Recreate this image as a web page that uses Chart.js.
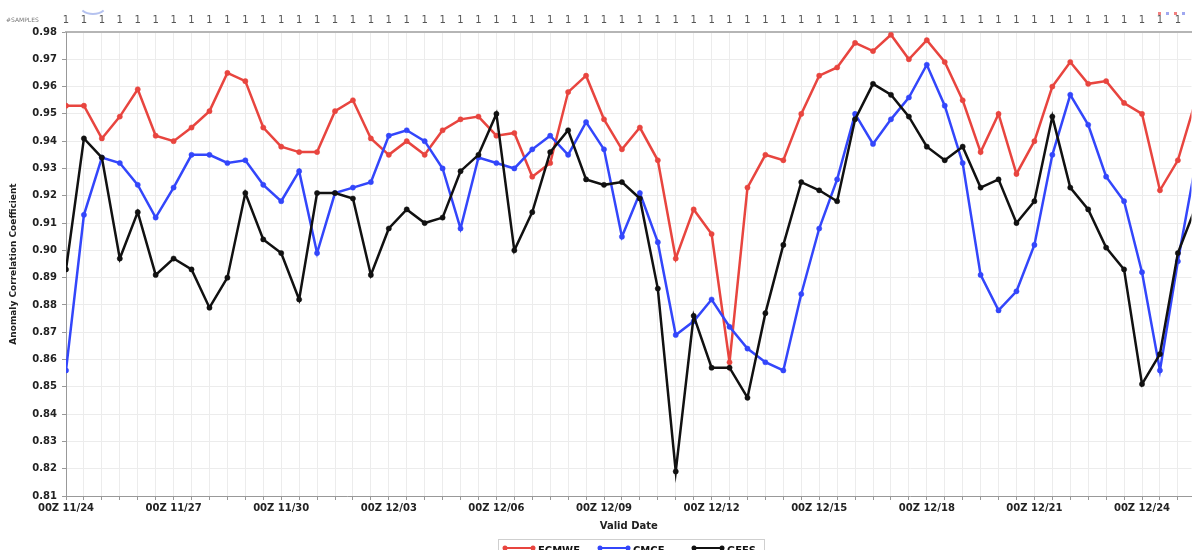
<!DOCTYPE html>
<html>
<head>
<meta charset="utf-8">
<script src="https://cdn.jsdelivr.net/npm/chart.js@4.4.1/dist/chart.umd.min.js"></script>
<style>
  html, body { margin: 0; padding: 0; background: #fff; overflow: hidden; }
  canvas { display: block; }
</style>
</head>
<body>
<canvas id="accChart" width="1196" height="580"></canvas>
<script>
/* ACC 500 hPa — ECMWF / CMCE / GEFS, un point toutes les 12 h depuis 00Z 11/24 */

const xTickLabels = ["00Z 11/24", "00Z 11/27", "00Z 11/30", "00Z 12/03", "00Z 12/06", "00Z 12/09",
  "00Z 12/12", "00Z 12/15", "00Z 12/18", "00Z 12/21", "00Z 12/24"];

const ecmwf = [0.953, 0.953, 0.941, 0.949, 0.959, 0.942, 0.940, 0.945, 0.951, 0.965, 0.962, 0.945,
  0.938, 0.936, 0.936, 0.951, 0.955, 0.941, 0.935, 0.940, 0.935, 0.944, 0.948, 0.949,
  0.942, 0.943, 0.927, 0.932, 0.958, 0.964, 0.948, 0.937, 0.945, 0.933, 0.897, 0.915,
  0.906, 0.859, 0.923, 0.935, 0.933, 0.950, 0.964, 0.967, 0.976, 0.973, 0.979, 0.970,
  0.977, 0.969, 0.955, 0.936, 0.950, 0.928, 0.940, 0.960, 0.969, 0.961, 0.962, 0.954,
  0.950, 0.922, 0.933, 0.955];

const cmce = [0.856, 0.913, 0.934, 0.932, 0.924, 0.912, 0.923, 0.935, 0.935, 0.932, 0.933, 0.924,
  0.918, 0.929, 0.899, 0.921, 0.923, 0.925, 0.942, 0.944, 0.940, 0.930, 0.908, 0.934,
  0.932, 0.930, 0.937, 0.942, 0.935, 0.947, 0.937, 0.905, 0.921, 0.903, 0.869, 0.874,
  0.882, 0.872, 0.864, 0.859, 0.856, 0.884, 0.908, 0.926, 0.950, 0.939, 0.948, 0.956,
  0.968, 0.953, 0.932, 0.891, 0.878, 0.885, 0.902, 0.935, 0.957, 0.946, 0.927, 0.918,
  0.892, 0.856, 0.896, 0.932];

const gefs = [0.893, 0.941, 0.934, 0.897, 0.914, 0.891, 0.897, 0.893, 0.879, 0.890, 0.921, 0.904,
  0.899, 0.882, 0.921, 0.921, 0.919, 0.891, 0.908, 0.915, 0.910, 0.912, 0.929, 0.935,
  0.950, 0.900, 0.914, 0.936, 0.944, 0.926, 0.924, 0.925, 0.919, 0.886, 0.819, 0.876,
  0.857, 0.857, 0.846, 0.877, 0.902, 0.925, 0.922, 0.918, 0.948, 0.961, 0.957, 0.949,
  0.938, 0.933, 0.938, 0.923, 0.926, 0.910, 0.918, 0.949, 0.923, 0.915, 0.901, 0.893,
  0.851, 0.862, 0.899, 0.916];

const sampleCount = "1";
const yMin = 0.81, yMax = 0.98;
const xMax = 62.76;

Chart.defaults.font.family = "'DejaVu Sans', sans-serif";

function toPoints(arr) {
  return arr.map((v, i) => ({ x: i, y: v }));
}

function lineSet(label, values, color, order) {
  return {
    label: label,
    data: toPoints(values),
    borderColor: color,
    backgroundColor: color,
    pointBackgroundColor: color,
    pointBorderColor: color,
    borderWidth: 2.5,
    pointRadius: 2.6,
    pointBorderWidth: 0.5,
    tension: 0,
    order: order
  };
}

// texte #SAMPLES, bouts de logos et légende coupée en bas
const extras = {
  id: "extras",
  afterDraw(chart) {
    const ctx = chart.ctx;
    ctx.save();
    ctx.fillStyle = "#777";
    ctx.font = "6px 'DejaVu Sans'";
    ctx.textBaseline = "middle";
    ctx.fillText("#SAMPLES", 6, 20);

    ctx.strokeStyle = "rgba(90,120,220,0.45)";
    ctx.lineWidth = 2;
    ctx.beginPath();
    ctx.ellipse(93, 2, 15, 12, 0, 0.25 * Math.PI, 0.75 * Math.PI);
    ctx.stroke();
    [[1158, "#f28080"], [1166, "#9fa8f0"], [1174, "#f28080"], [1182, "#9fa8f0"]].forEach(([px, c]) => {
      ctx.fillStyle = c;
      ctx.fillRect(px, 12, 3, 3);
    });

    // légende
    ctx.strokeStyle = "#cfcfcf";
    ctx.lineWidth = 1;
    ctx.strokeRect(498.5, 539.5, 266, 36);
    const pos = [505, 600, 694];
    chart.data.datasets.slice().sort((a, b) => b.order - a.order).forEach((ds, k) => {
      const x0 = pos[k], y = 548;
      ctx.strokeStyle = ds.borderColor;
      ctx.fillStyle = ds.borderColor;
      ctx.lineWidth = 2;
      ctx.beginPath();
      ctx.moveTo(x0, y);
      ctx.lineTo(x0 + 28, y);
      ctx.stroke();
      [x0, x0 + 28].forEach(px => {
        ctx.beginPath();
        ctx.arc(px, y, 2.5, 0, Math.PI * 2);
        ctx.fill();
      });
      ctx.fillStyle = "#111";
      ctx.font = "bold 10px 'DejaVu Sans'";
      ctx.textBaseline = "middle";
      ctx.fillText(ds.label, x0 + 33, y + 3);
    });
    ctx.restore();
  }
};

new Chart(document.getElementById("accChart"), {
  type: "line",
  data: {
    datasets: [
      lineSet("ECMWF", ecmwf, "#e8453f", 3),
      lineSet("CMCE", cmce, "#3346fb", 2),
      lineSet("GEFS", gefs, "#111111", 1)
    ]
  },
  options: {
    responsive: false,
    animation: false,
    layout: { padding: { left: 0, right: 0, top: 0, bottom: 44 } },
    plugins: { legend: { display: false }, tooltip: { enabled: false } },
    scales: {
      x: {
        type: "linear",
        position: "bottom",
        min: 0,
        max: xMax,
        afterFit: s => { s.height = 40; },
        ticks: {
          stepSize: 1,
          includeBounds: false,
          autoSkip: false,
          maxRotation: 0,
          padding: 2,
          color: "#222",
          font: { size: 10, weight: "bold" },
          callback: v => (v % 6 === 0 ? xTickLabels[v / 6] : "")
        },
        grid: { color: "#ececec", tickColor: "#999", tickLength: 4 },
        border: { color: "#999", width: 1 },
        title: {
          display: true,
          text: "Valid Date",
          color: "#222",
          font: { size: 10, weight: "bold" },
          padding: { top: 0, bottom: 4 }
        }
      },
      top: {
        type: "linear",
        position: "top",
        min: 0,
        max: xMax,
        afterFit: s => { s.height = 32; },
        ticks: {
          stepSize: 1,
          includeBounds: false,
          autoSkip: false,
          maxRotation: 0,
          padding: 6,
          color: "#555",
          font: { size: 10 },
          callback: () => sampleCount
        },
        grid: { drawOnChartArea: false, drawTicks: false },
        border: { color: "#b5b5b5", width: 2 }
      },
      y: {
        min: yMin,
        max: yMax,
        afterFit: s => { s.width = 66; },
        ticks: {
          stepSize: 0.01,
          padding: 5,
          color: "#222",
          font: { size: 10, weight: "bold" },
          callback: v => v.toFixed(2)
        },
        grid: { color: "#ececec", tickColor: "#999", tickLength: 4 },
        border: { color: "#999", width: 1 },
        title: {
          display: true,
          text: "Anomaly Correlation Coefficient",
          color: "#222",
          font: { size: 9, weight: "bold" },
          padding: { top: 8, bottom: 0 }
        }
      }
    }
  },
  plugins: [extras]
});
</script>
</body>
</html>
